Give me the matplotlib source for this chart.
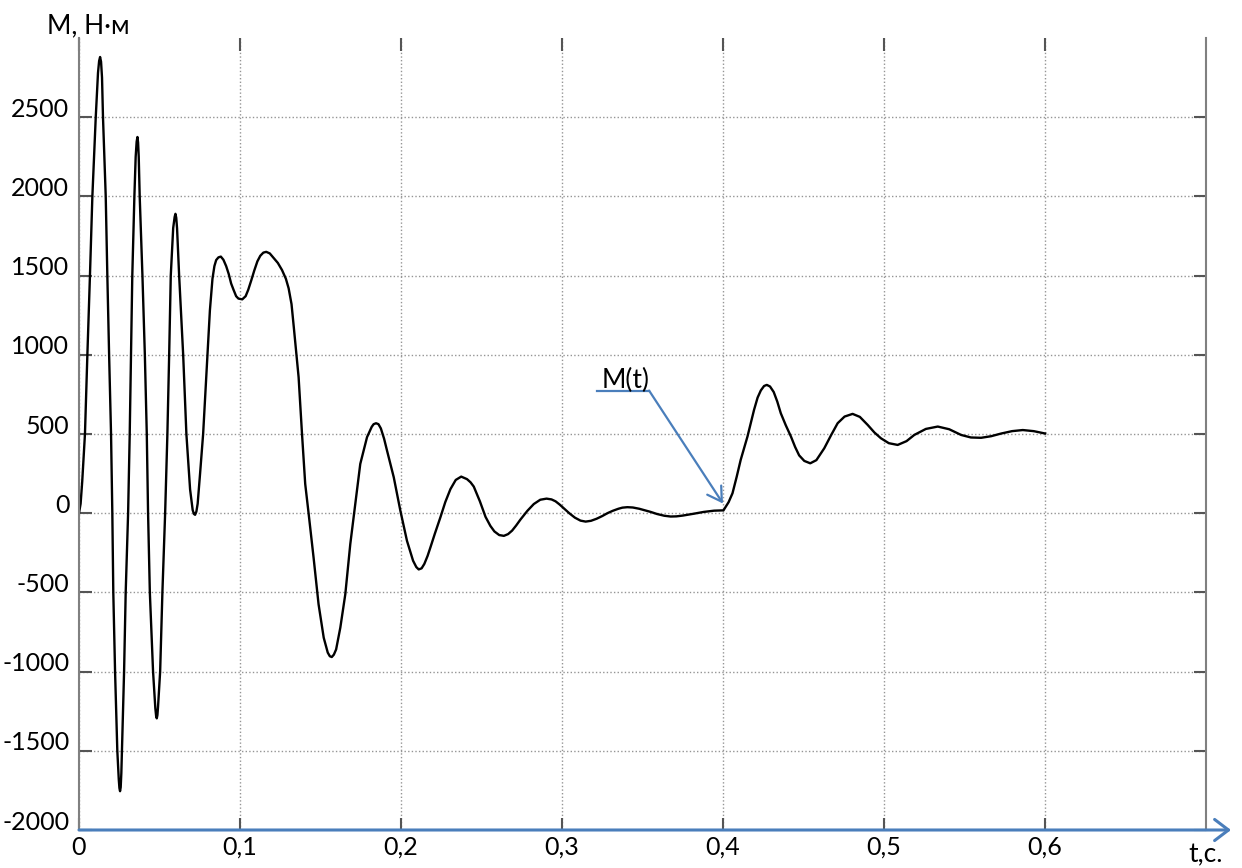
import matplotlib
matplotlib.use('Agg')
import matplotlib.pyplot as plt
import matplotlib.transforms as mtransforms

# ------------------------------------------------------ #
# Torque transient M(t), values read in (t [s], M [N*m])
# ------------------------------------------------------ #
t_vals = [0.0, 0.001, 0.002, 0.0037, 0.0052, 0.0068, 0.0083, 0.0104, 0.0118, 0.0125,
          0.0131, 0.0137, 0.0143, 0.0149, 0.0166, 0.0176, 0.0187, 0.0199, 0.0207, 0.0213,
          0.0224, 0.0238, 0.0247, 0.0251, 0.0255, 0.0259, 0.0263, 0.0268, 0.028, 0.029,
          0.0305, 0.0315, 0.0323, 0.0331, 0.0344, 0.0352, 0.0358, 0.0363, 0.0367, 0.0371,
          0.0377, 0.0394, 0.0409, 0.0421, 0.0429, 0.044, 0.046, 0.0474, 0.0479, 0.0483,
          0.0487, 0.0491, 0.0504, 0.0518, 0.0535, 0.0549, 0.056, 0.057, 0.0585, 0.0594,
          0.0599, 0.0604, 0.0609, 0.0622, 0.0647, 0.0667, 0.069, 0.0706, 0.0714, 0.0721,
          0.0729, 0.0737, 0.0752, 0.0771, 0.0798, 0.0813, 0.0829, 0.0841, 0.0852, 0.0866,
          0.0881, 0.0897, 0.0914, 0.093, 0.0945, 0.096, 0.0976, 0.099, 0.1014, 0.1035,
          0.1051, 0.107, 0.1088, 0.1108, 0.1126, 0.1145, 0.1163, 0.1185, 0.1206, 0.1235,
          0.1261, 0.1285, 0.1302, 0.132, 0.1334, 0.1364, 0.1385, 0.1405, 0.1426, 0.1457,
          0.1488, 0.152, 0.1545, 0.1558, 0.157, 0.1583, 0.1597, 0.1623, 0.1654, 0.1685,
          0.1716, 0.1747, 0.1789, 0.1818, 0.183, 0.1845, 0.186, 0.1875, 0.1895, 0.1913,
          0.1955, 0.1996, 0.2037, 0.2075, 0.2095, 0.211, 0.2128, 0.2145, 0.2165, 0.2183,
          0.221, 0.2245, 0.2275, 0.2307, 0.234, 0.2374, 0.241, 0.2432, 0.2452, 0.249,
          0.2525, 0.2555, 0.258, 0.261, 0.2639, 0.2665, 0.269, 0.2715, 0.2742, 0.2785,
          0.2825, 0.2865, 0.2904, 0.2935, 0.296, 0.2985, 0.3012, 0.3045, 0.308, 0.3115,
          0.3147, 0.318, 0.3215, 0.325, 0.3282, 0.3315, 0.335, 0.3375, 0.3406, 0.344,
          0.348, 0.3515, 0.3551, 0.359, 0.3635, 0.3675, 0.371, 0.375, 0.382, 0.388,
          0.3945, 0.4003, 0.4035, 0.4059, 0.4085, 0.411, 0.4152, 0.4193, 0.4215, 0.4235,
          0.4255, 0.4272, 0.4292, 0.4315, 0.4337, 0.4359, 0.439, 0.4422, 0.4448, 0.4473,
          0.4505, 0.4542, 0.458, 0.4629, 0.467, 0.4712, 0.4755, 0.4805, 0.485, 0.4899,
          0.494, 0.4981, 0.503, 0.5085, 0.514, 0.5188, 0.526, 0.5334, 0.5405, 0.5479,
          0.554, 0.5603, 0.5665, 0.5728, 0.5795, 0.5862, 0.593, 0.6001]
m_vals = [0, 60, 200, 500, 1000, 1500, 2000, 2500, 2780, 2855,
          2880, 2850, 2750, 2500, 2000, 1500, 1000, 500, 0, -500,
          -1000, -1500, -1680, -1735, -1755, -1730, -1640, -1450, -1000, -500,
          0, 500, 1000, 1500, 2000, 2250, 2345, 2375, 2340, 2250,
          2000, 1500, 1000, 500, 0, -500, -1000, -1230, -1280, -1295,
          -1275, -1220, -1000, -500, 0, 500, 1000, 1500, 1800, 1870,
          1890, 1865, 1800, 1500, 1000, 500, 150, 20, -5, -10,
          10, 60, 250, 500, 1000, 1280, 1480, 1560, 1598, 1615,
          1620, 1600, 1560, 1510, 1450, 1410, 1370, 1355, 1350, 1370,
          1410, 1470, 1530, 1590, 1625, 1645, 1650, 1640, 1615, 1580,
          1535, 1480, 1420, 1320, 1176, 859, 503, 185, 0, -280,
          -575, -786, -880, -903, -908, -893, -860, -723, -512, -195,
          58, 311, 480, 545, 562, 568, 562, 535, 470, 396,
          227, 16, -174, -300, -340, -355, -348, -320, -270, -215,
          -130, -25, 70, 152, 210, 231, 215, 195, 168, 75,
          -23, -80, -115, -138, -143, -132, -110, -78, -40, 15,
          58, 85, 92, 87, 75, 55, 30, 0, -28, -47,
          -53, -48, -35, -18, 0, 15, 28, 35, 38, 36,
          28, 18, 8, -5, -16, -21, -20, -15, -3, 8,
          16, 18, 70, 126, 230, 337, 484, 653, 730, 775,
          803, 810, 800, 765, 705, 631, 555, 484, 418, 365,
          330, 315, 335, 410, 490, 568, 610, 627, 608, 557,
          510, 473, 442, 431, 455, 494, 532, 547, 530, 494,
          478, 476, 486, 503, 518, 525, 518, 503]

x_ticks = [0.0, 0.1, 0.2, 0.3, 0.4, 0.5, 0.6]
x_tick_labels = ['0', '0,1', '0,2', '0,3', '0,4', '0,5', '0,6']
y_ticks = [-2000, -1500, -1000, -500, 0, 500, 1000, 1500, 2000, 2500]
y_tick_labels = [str(v) for v in y_ticks]

# ------------------------------------------------------ #
# Figure
# ------------------------------------------------------ #
plt.rcParams['font.family'] = ['Lato', 'DejaVu Sans']
plt.rcParams['font.size'] = 18

blue = '#4a7ebb'
fig = plt.figure(figsize=(12.42, 8.68), dpi=100)
ax = fig.add_axes([79 / 1242, 38 / 868, 1127 / 1242, 792 / 868])

ax.plot(t_vals, m_vals, color='black', lw=1.7, solid_joinstyle='round')

ax.set_xlim(0, 0.7)
ax.set_ylim(-2000, 3000)
ax.set_xticks(x_ticks)
ax.set_xticklabels(x_tick_labels)
ax.set_yticks(y_ticks)
ax.set_yticklabels(y_tick_labels)

ax.grid(True, color='#959595', lw=1.0, ls=(0, (1, 1.6)))
ax.tick_params(direction='in', length=9, width=1.5, color='#555555',
               top=True, right=True, pad=7)
ax.tick_params(axis='x', pad=4)

for side in ['top', 'bottom']:
    ax.spines[side].set_visible(False)
for side in ['left', 'right']:
    ax.spines[side].set_color('#808080')
    ax.spines[side].set_linewidth(1.5)

# y labels sit a little above their gridlines
shift = mtransforms.ScaledTranslation(0, 10 / 100, fig.dpi_scale_trans)
for lbl in ax.get_yticklabels():
    lbl.set_transform(lbl.get_transform() + shift)

# blue time axis with arrow
ax.annotate('', xy=(1.0222, 0), xytext=(0, 0), xycoords='axes fraction',
            textcoords='axes fraction', annotation_clip=False,
            arrowprops=dict(arrowstyle='->,head_length=0.5,head_width=0.38',
                            color=blue, lw=2.2, mutation_scale=20,
                            shrinkA=0, shrinkB=0))

# curve callout
ax.plot([0.322, 0.3541], [774, 774], color=blue, lw=1.6)
ax.annotate('', xy=(0.4, 61), xytext=(0.3541, 774),
            arrowprops=dict(arrowstyle='->,head_length=0.5,head_width=0.3',
                            color=blue, lw=1.6, mutation_scale=20,
                            shrinkA=0, shrinkB=0))
ax.text(0.3245, 790, 'M(t)', ha='left', va='baseline', fontsize=19)

fig.text(46.7 / 1242, (868 - 33) / 868, 'M, Н·м', ha='left', va='baseline', fontsize=19)
fig.text(1206 / 1242, (868 - 862) / 868, 't,с.', ha='center', va='baseline', fontsize=19)

fig.savefig('out.png', dpi=100)
